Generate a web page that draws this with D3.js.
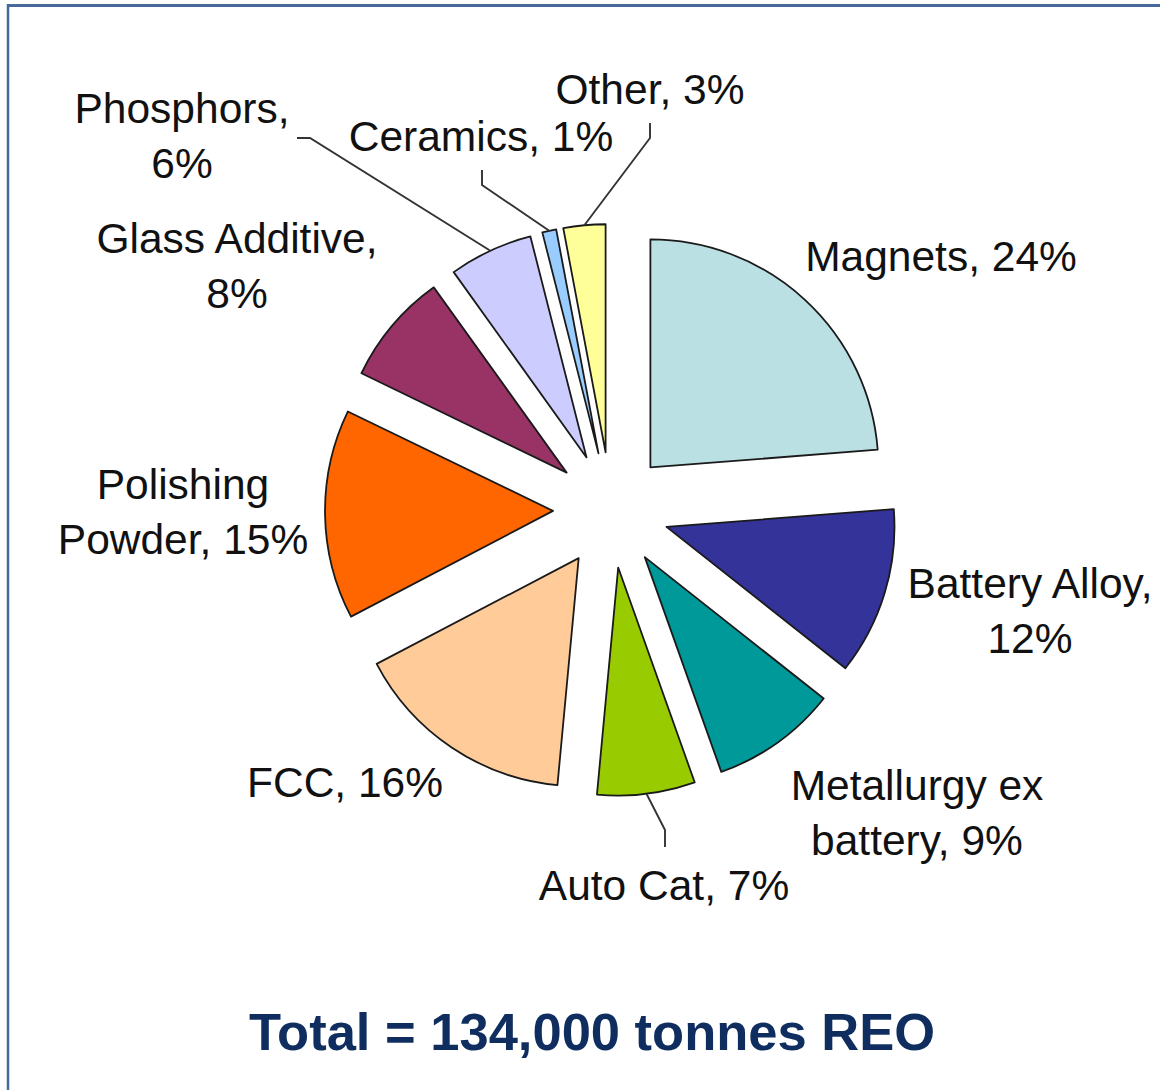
<!DOCTYPE html>
<html>
<head>
<meta charset="utf-8">
<script src="https://cdn.jsdelivr.net/npm/d3@7"></script>
<style>
  html, body { margin: 0; padding: 0; background: #fff; }
  svg { display: block; }
  text { font-family: "Liberation Sans", Arial, Helvetica, sans-serif; }
</style>
</head>
<body>
<svg id="chart" width="1160" height="1090"></svg>
<script>
// Rare-earth oxide demand by end use
const categories = ["Magnets", "Battery Alloy", "Metallurgy ex battery", "Auto Cat", "FCC",
                    "Polishing Powder", "Glass Additive", "Phosphors", "Ceramics", "Other"];
const shares = [24, 12, 9, 7, 16, 15, 8, 6, 1, 3];
const sliceColors = ["#bae0e3", "#333399", "#009999", "#99cc00", "#ffcc99",
                     "#ff6600", "#993366", "#ccccff", "#99ccff", "#ffff99"];
const totalText = "Total = 134,000 tonnes REO";

// Label placement: centre x, first baseline y, words on the first line (0 = single line)
const labelLayout = [
  { x: 941,  y: 271, wrap: 0 },
  { x: 1030, y: 598, wrap: 2 },
  { x: 917,  y: 800, wrap: 2 },
  { x: 664,  y: 900, wrap: 0 },
  { x: 345,  y: 797, wrap: 0 },
  { x: 183,  y: 499, wrap: 1 },
  { x: 237,  y: 253, wrap: 2 },
  { x: 182,  y: 123, wrap: 1 },
  { x: 481,  y: 151, wrap: 0 },
  { x: 650,  y: 104, wrap: 0 }
];
// Leader lines: label-side points, the slice end is taken from the arc
const leaderLayout = {
  "Phosphors": [[297, 138], [310, 138]],
  "Ceramics":  [[482, 170], [482, 185]],
  "Other":     [[650, 123], [650, 138]],
  "Auto Cat":  [[665, 847], [665, 830]]
};

const svg = d3.select("#chart");
const cx = 611, cy = 510, radius = 228, explode = 58;

// frame
svg.append("line").attr("x1", 8).attr("x2", 8).attr("y1", 4).attr("y2", 1090)
  .attr("stroke", "#44699a").attr("stroke-width", 2.5);
svg.append("line").attr("x1", 7).attr("x2", 1160).attr("y1", 5.5).attr("y2", 5.5)
  .attr("stroke", "#44699a").attr("stroke-width", 3);

const pie = d3.pie().sort(null).value(d => d.v).startAngle(0).endAngle(2 * Math.PI);
const arcs = pie(categories.map((c, i) => ({ c, v: shares[i] })));
const arc = d3.arc().innerRadius(0).outerRadius(radius);

const color = d3.scaleOrdinal().domain(categories).range(sliceColors);

const g = svg.append("g").attr("transform", `translate(${cx},${cy})`);

function offsetOf(a) {
  const m = (a.startAngle + a.endAngle) / 2;
  return [explode * Math.sin(m), -explode * Math.cos(m)];
}

g.selectAll("path.slice").data(arcs).enter().append("path")
  .attr("class", "slice")
  .attr("transform", d => { const o = offsetOf(d); return `translate(${o[0]},${o[1]})`; })
  .attr("d", arc)
  .attr("fill", d => color(d.data.c))
  .attr("stroke", "#1a1a1a")
  .attr("stroke-width", 1.8)
  .attr("stroke-linejoin", "round");

// leader lines
arcs.forEach(a => {
  const pts = leaderLayout[a.data.c];
  if (!pts) return;
  const m = (a.startAngle + a.endAngle) / 2;
  const r = explode + radius;
  const end = [cx + r * Math.sin(m), cy - r * Math.cos(m)];
  const path = d3.line()(pts.concat([end]));
  svg.append("path").attr("d", path).attr("fill", "none")
    .attr("stroke", "#333").attr("stroke-width", 1.9);
});

// labels
const lineHeight = 55;
arcs.forEach((a, i) => {
  const text = `${a.data.c}, ${a.data.v}%`;
  const words = text.split(" ");
  const L = labelLayout[i];
  const lines = L.wrap ? [words.slice(0, L.wrap).join(" "), words.slice(L.wrap).join(" ")] : [text];
  const t = svg.append("text").attr("text-anchor", "middle")
    .attr("font-size", 42.5).attr("fill", "#111");
  lines.forEach((ln, k) => {
    t.append("tspan").attr("x", L.x).attr("y", L.y + k * lineHeight).text(ln);
  });
});

// total
svg.append("text").attr("x", 592).attr("y", 1050).attr("text-anchor", "middle")
  .attr("font-size", 52.5).attr("font-weight", "bold").attr("fill", "#0f2d5e")
  .text(totalText);
</script>
</body>
</html>
